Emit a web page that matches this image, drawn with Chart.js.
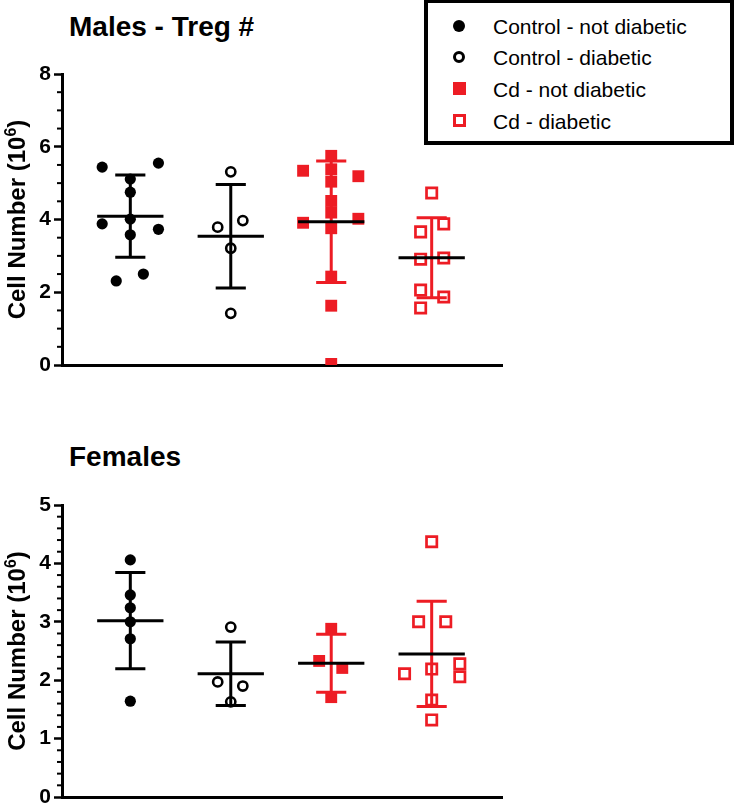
<!DOCTYPE html>
<html><head><meta charset="utf-8">
<script src="https://cdn.jsdelivr.net/npm/chart.js@4/dist/chart.umd.min.js"></script>
<style>
html,body{margin:0;padding:0;background:#fff;}
body{width:738px;height:806px;position:relative;overflow:hidden;font-family:"Liberation Sans",Arial,Helvetica,sans-serif;}
.title{position:absolute;left:69px;font-weight:bold;font-size:28px;line-height:28px;color:#000;white-space:nowrap;}
canvas{position:absolute;left:0;}
#legend{position:absolute;left:424px;top:-1px;width:302px;height:138px;border:4px solid #000;background:#fff;z-index:5;}
.row{position:absolute;left:0;width:302px;height:21px;}
.row span{position:absolute;left:65px;top:0;font-size:21px;line-height:21px;color:#000;white-space:nowrap;}
.sym{position:absolute;box-sizing:border-box;}
</style>
</head><body>
<div class="title" style="top:13px">Males - Treg #</div>
<div class="title" style="top:443px">Females</div>
<canvas id="males" width="520" height="385" style="top:0"></canvas>
<canvas id="females" width="520" height="380" style="top:440px"></canvas>
<div id="legend"></div>
<script>
// ---- data ----
const groups = ['Control - not diabetic', 'Control - diabetic', 'Cd - not diabetic', 'Cd - diabetic'];
const groupX = [1, 2, 3, 4];

// Males (cell number, 10^6)
const maleCtrlND   = [5.44, 5.55, 5.11, 4.75, 3.88, 4.01, 3.73, 3.58, 2.31, 2.50];
const maleCtrlNDdx = [-0.28, 0.28, 0, 0, -0.28, 0, 0.28, 0, -0.14, 0.13];
const maleCtrlD    = [5.31, 3.79, 3.97, 3.21, 1.42];
const maleCtrlDdx  = [0, -0.13, 0.12, 0, 0];
const maleCdND     = [5.34, 5.75, 5.38, 5.04, 5.19, 4.51, 4.19, 3.91, 4.02, 3.76, 2.43, 1.63, 0.03];
const maleCdNDdx   = [-0.28, 0, 0, 0, 0.27, 0, 0, -0.28, 0.27, 0, 0, 0, 0];
const maleCdD      = [4.73, 3.88, 3.66, 2.91, 2.94, 2.06, 1.87, 1.57];
const maleCdDdx    = [0, 0.12, -0.11, -0.11, 0.12, -0.11, 0.12, -0.11];
const maleMeans    = [4.09, 3.54, 3.94, 2.95];
const maleSD       = [1.13, 1.42, 1.67, 1.10];

// Females
const femCtrlND    = [4.06, 3.46, 3.24, 3.00, 2.71, 1.64];
const femCtrlNDdx  = [0, 0, 0, 0, 0, 0];
const femCtrlD     = [2.91, 1.97, 1.90, 1.63];
const femCtrlDdx   = [0, -0.13, 0.12, 0];
const femCdND      = [2.88, 2.33, 2.21, 1.71];
const femCdNDdx    = [0, -0.12, 0.11, 0];
const femCdD       = [4.37, 3.00, 3.00, 2.19, 2.11, 2.28, 2.06, 1.66, 1.32];
const femCdDdx     = [0, -0.13, 0.14, 0, -0.27, 0.28, 0.28, 0, 0];
const femMeans     = [3.02, 2.11, 2.29, 2.45];
const femSD        = [0.825, 0.545, 0.495, 0.90];

const maleAxis   = {min: 0, max: 8, step: 2, minor: 0.5};
const femaleAxis = {min: 0, max: 5, step: 1, minor: 0.2};
const yTitleParts = ['Cell Number (10', '6', ')'];

// ---- styles ----
const RED = '#ED1C24';
const FONT = '"Liberation Sans", Arial, Helvetica, sans-serif';
const styles = [
  {color: '#000', style: 'circle', filled: true},
  {color: '#000', style: 'circle', filled: false},
  {color: RED, style: 'rect', filled: true},
  {color: RED, style: 'rect', filled: false}
];

function pointOpts(s) {
  if (s.style === 'circle') {
    return s.filled
      ? {pointRadius: 5.6, backgroundColor: s.color, borderColor: s.color, borderWidth: 0}
      : {pointRadius: 4.6, backgroundColor: 'rgba(0,0,0,0)', borderColor: s.color, borderWidth: 2.6};
  }
  return s.filled
    ? {pointRadius: 8.4, backgroundColor: s.color, borderColor: s.color, borderWidth: 0}
    : {pointRadius: 7.3, backgroundColor: 'rgba(0,0,0,0)', borderColor: s.color, borderWidth: 2.7};
}

function buildDatasets(valueSets, dxSets, means, sds) {
  const meanLines = [], sdBars = [], pts = [];
  groupX.forEach((gx, g) => {
    const m = means[g], sd = sds[g], s = styles[g];
    meanLines.push({
      data: [{x: gx - 0.33, y: m}, {x: gx + 0.33, y: m}],
      showLine: true, borderColor: '#000', borderWidth: 3, pointRadius: 0, tension: 0, fill: false
    });
    const hi = m + sd, lo = m - sd;
    sdBars.push({
      data: [{x: gx - 0.15, y: hi}, {x: gx + 0.15, y: hi}, {x: gx, y: hi}, {x: gx, y: lo},
             {x: gx - 0.15, y: lo}, {x: gx + 0.15, y: lo}],
      showLine: true, borderColor: s.color, borderWidth: 3, pointRadius: 0, tension: 0, fill: false,
      borderJoinStyle: 'miter', borderCapStyle: 'butt'
    });
    pts.push(Object.assign({
      data: valueSets[g].map((v, i) => ({x: gx + dxSets[g][i], y: v})),
      showLine: false, pointStyle: s.style
    }, pointOpts(s)));
  });
  return meanLines.concat(sdBars, pts);
}

const axisExtras = {
  id: 'axisExtras',
  afterDraw(chart, args, opts) {
    const y = chart.scales.y, ctx = chart.ctx;
    const n = Math.round((opts.max - opts.min) / opts.minor);
    ctx.save();
    ctx.strokeStyle = '#000';
    ctx.lineWidth = 2;
    for (let i = 0; i <= n; i++) {
      const v = opts.min + i * opts.minor;
      const r = v / opts.step;
      if (Math.abs(r - Math.round(r)) < 1e-6) continue;
      const py = y.getPixelForValue(v);
      ctx.beginPath();
      ctx.moveTo(y.right - 5, py);
      ctx.lineTo(y.right, py);
      ctx.stroke();
    }
    // rotated axis title with superscript
    const mainFont = 'bold 24px ' + FONT, supFont = 'bold 16px ' + FONT;
    ctx.font = mainFont;
    const w1 = ctx.measureText(yTitleParts[0]).width;
    const w3 = ctx.measureText(yTitleParts[2]).width;
    ctx.font = supFont;
    const w2 = ctx.measureText(yTitleParts[1]).width;
    const total = w1 + w2 + w3;
    const cy = (y.top + y.bottom) / 2;
    ctx.translate(25, cy);
    ctx.rotate(-Math.PI / 2);
    ctx.fillStyle = '#000';
    ctx.textBaseline = 'alphabetic';
    ctx.textAlign = 'left';
    let x = -total / 2;
    ctx.font = mainFont;
    ctx.fillText(yTitleParts[0], x, 0);
    x += w1;
    ctx.font = supFont;
    ctx.fillText(yTitleParts[1], x, -9);
    x += w2;
    ctx.font = mainFont;
    ctx.fillText(yTitleParts[2], x, 0);
    ctx.restore();
  }
};

function makeChart(id, datasets, axis, padTop, xH) {
  return new Chart(document.getElementById(id), {
    type: 'scatter',
    data: {datasets},
    plugins: [axisExtras],
    options: {
      responsive: false, animation: false, devicePixelRatio: 1, events: [],
      layout: {padding: {top: padTop, right: 18, left: 0, bottom: 0}},
      plugins: {legend: {display: false}, tooltip: {enabled: false}, axisExtras: axis},
      scales: {
        x: {
          type: 'linear', min: 0.32, max: 4.7,
          ticks: {display: false}, grid: {display: false, drawTicks: false},
          border: {color: '#000', width: 3},
          afterFit(s) { s.height = xH; }
        },
        y: {
          type: 'linear', min: axis.min, max: axis.max,
          ticks: {stepSize: axis.step, color: '#000', padding: 3,
                  font: {family: FONT, size: 21, weight: 'bold'}},
          grid: {drawOnChartArea: false, tickLength: 8, tickWidth: 2.5, tickColor: '#000'},
          border: {color: '#000', width: 3},
          title: {display: false},
          afterFit(s) { s.width = 62; }
        }
      }
    }
  });
}

makeChart('males',
  buildDatasets([maleCtrlND, maleCtrlD, maleCdND, maleCdD],
                [maleCtrlNDdx, maleCtrlDdx, maleCdNDdx, maleCdDdx], maleMeans, maleSD),
  maleAxis, 74, 20);
makeChart('females',
  buildDatasets([femCtrlND, femCtrlD, femCdND, femCdD],
                [femCtrlNDdx, femCtrlDdx, femCdNDdx, femCdDdx], femMeans, femSD),
  femaleAxis, 65, 23);

// ---- legend ----
const legend = document.getElementById('legend');
const rowCenters = [23, 54, 86, 118];
groups.forEach((name, g) => {
  const s = styles[g];
  const row = document.createElement('div');
  row.className = 'row';
  row.style.top = (rowCenters[g] - 10.3) + 'px';
  const sym = document.createElement('div');
  sym.className = 'sym';
  const size = s.style === 'circle' ? 12 : 13;
  sym.style.width = size + 'px';
  sym.style.height = size + 'px';
  sym.style.left = (31 - size / 2) + 'px';
  sym.style.top = (10.3 - size / 2) + 'px';
  if (s.style === 'circle') sym.style.borderRadius = '50%';
  if (s.filled) sym.style.background = s.color;
  else sym.style.border = '3px solid ' + s.color;
  const txt = document.createElement('span');
  txt.textContent = name;
  row.appendChild(sym);
  row.appendChild(txt);
  legend.appendChild(row);
});
</script>
</body></html>
